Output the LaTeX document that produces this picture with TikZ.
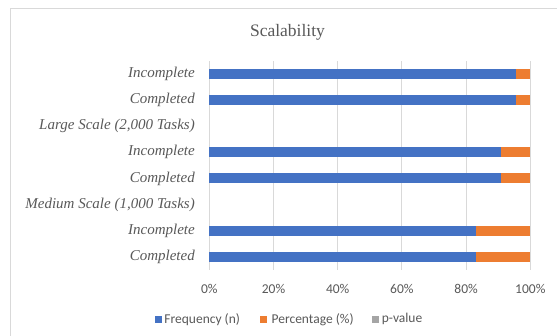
\documentclass[tikz,border=0pt]{standalone}
\usepackage{fontspec}
\setmainfont{Liberation Serif}
\newfontfamily\axisfont{Carlito}
\definecolor{serA}{HTML}{4472C4}
\definecolor{serB}{HTML}{ED7D31}
\definecolor{serC}{HTML}{A5A5A5}
\definecolor{gridc}{HTML}{D9D9D9}
\definecolor{txtc}{HTML}{595959}
\tikzset{
  gridline/.style={draw=gridc, line width=1pt},
  barA/.style={fill=serA, draw=none},
  barB/.style={fill=serB, draw=none},
  catlabel/.style={anchor=east, inner sep=0pt, text=txtc, font=\fontsize{15}{17}\selectfont\itshape},
  ticklabel/.style={anchor=center, inner sep=0pt, text=txtc, font=\axisfont\fontsize{13.5}{15}\selectfont},
  legtext/.style={anchor=west, inner sep=0pt, text=txtc, font=\axisfont\fontsize{13.5}{15}\selectfont},
  legkey/.style={minimum size=7pt, inner sep=0pt, draw=none},
}
\begin{document}
\begin{tikzpicture}[x=1pt, y=-1pt]
  \useasboundingbox (0,0) rectangle (557,335);
  \fill[white] (0,0) rectangle (557,335);
  % chart frame
  \begin{scope}
    \clip (0,0) rectangle (557,335);
    \draw[draw=gridc, line width=1pt] (10.8,340) -- (10.8,8.3) -- (565,8.3);
  \end{scope}
  % title
  \node[text=txtc, font=\fontsize{17.5}{20}\selectfont] (title) at (287.5,32) {Scalability};
  % vertical gridlines and axis values
  \foreach \i in {0,...,5} {
    \draw[gridline] ({209.3+64.2*\i},61) -- ({209.3+64.2*\i},270);
    \pgfmathtruncatemacro{\pc}{20*\i}
    \node[ticklabel] (tick\i) at ({209.3+64.2*\i},289) {\pc\%};
  }
  % stacked bars: row centre, frequency share (fraction of full width)
  \foreach \yc/\f in {73.7/0.955, 100/0.955, 152.2/0.909, 178.4/0.909, 230.6/0.832, 256.8/0.832} {
    \fill[barA] (209.3,\yc-5) rectangle ({209.3+321*\f},\yc+5);
    \fill[barB] ({209.3+321*\f},\yc-5) rectangle (530.3,\yc+5);
  }
  % category labels
  \node[catlabel] (c1) at (195,73.7) {Incomplete};
  \node[catlabel] (c2) at (195,100) {Completed};
  \node[catlabel] (c3) at (195,126.1) {Large Scale (2,000 Tasks)};
  \node[catlabel] (c4) at (195,152.2) {Incomplete};
  \node[catlabel] (c5) at (195,178.4) {Completed};
  \node[catlabel] (c6) at (195,204.5) {Medium Scale (1,000 Tasks)};
  \node[catlabel] (c7) at (195,230.6) {Incomplete};
  \node[catlabel] (c8) at (195,256.8) {Completed};
  % legend
  \node[legkey, fill=serA] (k1) at (158.5,319.3) {};
  \node[legtext] (l1) at (164.2,319.3) {Frequency (n)};
  \node[legkey, fill=serB] (k2) at (263.7,319.3) {};
  \node[legtext] (l2) at (271.4,319.3) {Percentage (\%)};
  \node[legkey, fill=serC] (k3) at (375.8,319.3) {};
  \node[legtext] (l3) at (381.7,319.3) {p-value};
\end{tikzpicture}
\end{document}
